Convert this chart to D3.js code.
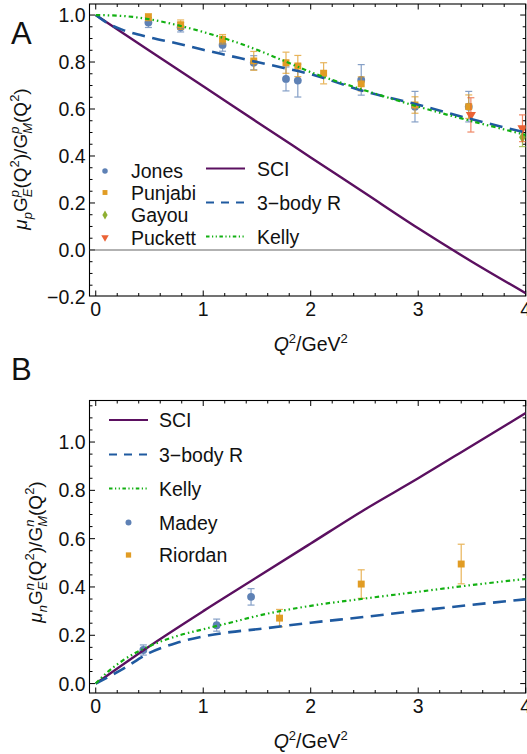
<!DOCTYPE html>
<html><head><meta charset="utf-8">
<script src="https://cdn.jsdelivr.net/npm/d3@7"></script>
<style>body{margin:0;background:#fff} svg{display:block} text{font-family:"Liberation Sans",Arial,Helvetica,sans-serif;fill:#111}</style>
</head><body><svg id="c" width="527" height="754"></svg>
<script>
// ---------- Panel A data (proton) ----------
const sciA_q = [0, 0.5, 1, 1.5, 2, 2.5, 3, 3.5, 4];
const sciA_v = [1.0, 0.848, 0.697, 0.545, 0.394, 0.243, 0.092, -0.05, -0.184];
const r3A_q = [0, 0.1, 0.25, 0.5, 0.75, 1, 1.25, 1.5, 1.75, 2, 2.5, 3, 3.5, 4];
const r3A_v = [1.0, 0.968, 0.937, 0.905, 0.88, 0.852, 0.826, 0.80, 0.775, 0.748, 0.675, 0.618, 0.556, 0.50];
const kellyA_q = [0, 0.25, 0.5, 0.75, 1, 1.25, 1.5, 1.75, 2, 2.5, 3, 3.5, 4];
const kellyA_v = [1.0, 0.996, 0.982, 0.958, 0.928, 0.893, 0.852, 0.805, 0.757, 0.68, 0.61, 0.548, 0.49];

const jones_q = [0.49, 0.79, 1.18, 1.47, 1.77, 1.88, 2.47, 2.97, 3.47];
const jones_v = [0.968, 0.948, 0.873, 0.797, 0.728, 0.721, 0.724, 0.61, 0.61];
const jones_e = [0.021, 0.02, 0.027, 0.03, 0.051, 0.07, 0.065, 0.065, 0.065];
const punjabi_q = [0.49, 0.79, 1.18, 1.47, 1.77, 1.88, 2.12, 2.47, 2.97, 3.47];
const punjabi_v = [0.991, 0.959, 0.897, 0.805, 0.797, 0.783, 0.752, 0.707, 0.617, 0.61];
const punjabi_e = [0.015, 0.02, 0.02, 0.04, 0.045, 0.045, 0.045, 0.03, 0.035, 0.05];
const gayou_q = [3.97];
const gayou_v = [0.48];
const gayou_e = [0.04];
const puckett_q = [3.49, 3.97];
const puckett_v = [0.575, 0.518];
const puckett_e = [0.073, 0.057];

// ---------- Panel B data (neutron) ----------
const sciB_q = [0, 0.5, 1, 1.5, 2, 2.5, 3, 3.5, 4];
const sciB_v = [0, 0.155, 0.30, 0.44, 0.58, 0.72, 0.85, 0.985, 1.12];
const r3B_q = [0, 0.25, 0.5, 0.75, 1, 1.25, 1.5, 2, 2.5, 3, 3.5, 4];
const r3B_v = [0, 0.06, 0.127, 0.168, 0.195, 0.213, 0.225, 0.252, 0.276, 0.302, 0.326, 0.349];
const kellyB_q = [0, 0.1, 0.25, 0.5, 0.75, 1, 1.25, 1.5, 2, 2.5, 3, 3.5, 4];
const kellyB_v = [0, 0.044, 0.095, 0.155, 0.196, 0.225, 0.252, 0.28, 0.322, 0.352, 0.38, 0.408, 0.433];

const madey_q = [0.443, 1.125, 1.445];
const madey_v = [0.139, 0.242, 0.359];
const madey_e = [0.021, 0.025, 0.034];
const riordan_q = [1.71, 2.47, 3.40];
const riordan_v = [0.271, 0.412, 0.495];
const riordan_e = [0.036, 0.059, 0.082];

// ---------- axis ticks ----------
const xMajor = [0, 1, 2, 3, 4];
const xLabels = ["0", "1", "2", "3", "4"];
const yMajorA = [-0.2, 0, 0.2, 0.4, 0.6, 0.8, 1.0];
const yMajorB = [0, 0.2, 0.4, 0.6, 0.8, 1.0];

// ---------- styles ----------
const C = {
  sci: "#5b1060", r3: "#1f5aa0", kelly: "#12b012",
  jones: "#5E81B5", punjabi: "#E19C24", gayou: "#8FB032", puckett: "#EB6235"
};

const svg = d3.select("#c");
const FS = 19.5;

const xA = d3.scaleLinear().domain([-0.058, 4]).range([89.5, 525.7]);
const yA = d3.scaleLinear().domain([-0.196, 1.047]).range([296, 4]);
const xB = d3.scaleLinear().domain([-0.058, 4]).range([89.5, 525.7]);
const yB = d3.scaleLinear().domain([-0.039, 1.172]).range([693, 400.5]);

function frame(g, xs, ys, yMajor, id) {
  const [x0, x1] = xs.range(), [y1, y0] = ys.range();
  const [yd0, yd1] = ys.domain();
  g.append("clipPath").attr("id", id).append("rect")
    .attr("x", x0).attr("y", y0).attr("width", x1 - x0).attr("height", y1 - y0);
  const xMin = d3.range(0, 4.0001, 0.2).filter(v => Math.abs(v - Math.round(v)) > 1e-6);
  const tk = g.append("g").attr("stroke", "#000").attr("stroke-width", 1);
  xMajor.forEach(v => {
    tk.append("line").attr("x1", xs(v)).attr("x2", xs(v)).attr("y1", y1).attr("y2", y1 - 5.5);
    tk.append("line").attr("x1", xs(v)).attr("x2", xs(v)).attr("y1", y0).attr("y2", y0 + 5.5);
  });
  xMin.forEach(v => {
    tk.append("line").attr("x1", xs(v)).attr("x2", xs(v)).attr("y1", y1).attr("y2", y1 - 3);
    tk.append("line").attr("x1", xs(v)).attr("x2", xs(v)).attr("y1", y0).attr("y2", y0 + 3);
  });
  const yMin = d3.range(-0.2, 1.2, 0.05).filter(v => v >= yd0 && v <= yd1 && !yMajor.some(m => Math.abs(m - v) < 1e-6));
  const yMaj = d3.range(-0.2, 1.2001, 0.2).filter(v => v >= yd0 - 1e-9 && v <= yd1);
  yMaj.forEach(v => {
    tk.append("line").attr("x1", x0).attr("x2", x0 + 5.5).attr("y1", ys(v)).attr("y2", ys(v));
    tk.append("line").attr("x1", x1).attr("x2", x1 - 5.5).attr("y1", ys(v)).attr("y2", ys(v));
  });
  yMin.forEach(v => {
    tk.append("line").attr("x1", x0).attr("x2", x0 + 3).attr("y1", ys(v)).attr("y2", ys(v));
    tk.append("line").attr("x1", x1).attr("x2", x1 - 3).attr("y1", ys(v)).attr("y2", ys(v));
  });
  g.append("rect").attr("x", x0).attr("y", y0).attr("width", x1 - x0).attr("height", y1 - y0)
    .attr("fill", "none").attr("stroke", "#000").attr("stroke-width", 1.1);
  const fmt = d3.format(".1f");
  yMajor.forEach(v => {
    g.append("text").attr("x", x0 - 4).attr("y", ys(v)).attr("dy", "0.36em")
      .attr("text-anchor", "end").attr("font-size", FS).text(fmt(v));
  });
  xMajor.forEach((v, i) => {
    g.append("text").attr("x", xs(v)).attr("y", y1 + 20)
      .attr("text-anchor", "middle").attr("font-size", FS).text(xLabels[i]);
  });
  const t = g.append("text").attr("x", xs(2)).attr("y", y1 + 55).attr("text-anchor", "middle").attr("font-size", FS);
  t.append("tspan").attr("font-style", "italic").text("Q");
  t.append("tspan").attr("font-size", 13).attr("dy", -8).text("2");
  t.append("tspan").attr("dy", 8).text("/GeV");
  t.append("tspan").attr("font-size", 13).attr("dy", -8).text("2");
}

function yTitle(g, cx, cy, s) {
  const t = g.append("text").attr("transform", `translate(${cx},${cy}) rotate(-90)`)
    .attr("text-anchor", "middle").attr("font-size", 19);
  const sm = 13;
  t.append("tspan").attr("font-style", "italic").text("\u03bc");
  t.append("tspan").attr("font-style", "italic").attr("font-size", sm).attr("dy", 5).text(s);
  t.append("tspan").attr("dy", -5).text("G");
  t.append("tspan").attr("font-style", "italic").attr("font-size", sm).attr("dy", -8).text(s);
  t.append("tspan").attr("font-style", "italic").attr("font-size", sm).attr("dx", -7.2).attr("dy", 13).text("E");
  t.append("tspan").attr("dy", -5).text("(Q");
  t.append("tspan").attr("font-size", sm).attr("dy", -8).text("2");
  t.append("tspan").attr("dy", 8).text(")/G");
  t.append("tspan").attr("font-style", "italic").attr("font-size", sm).attr("dy", -8).text(s);
  t.append("tspan").attr("font-style", "italic").attr("font-size", sm).attr("dx", -7.2).attr("dy", 13).text("M");
  t.append("tspan").attr("dy", -5).text("(Q");
  t.append("tspan").attr("font-size", sm).attr("dy", -8).text("2");
  t.append("tspan").attr("dy", 8).text(")");
}

function curve(g, xs, ys, q, v, color, dash, w) {
  const line = d3.line().x(d => xs(d[0])).y(d => ys(d[1])).curve(d3.curveMonotoneX);
  g.append("path").attr("d", line(q.map((d, i) => [d, v[i]])))
    .attr("fill", "none").attr("stroke", color).attr("stroke-width", w)
    .attr("stroke-dasharray", dash);
}

const symTypes = {
  circle: d3.symbolCircle, square: d3.symbolSquare, diamond: d3.symbolDiamond, tri: d3.symbolTriangle
};
function marker(g, x, y, type, color, size) {
  g.append("path").attr("d", d3.symbol().type(symTypes[type]).size(size)())
    .attr("transform", `translate(${x},${y})` + (type === "tri" ? " rotate(180)" : ""))
    .attr("fill", color);
}
function points(g, xs, ys, q, v, e, type, color) {
  q.forEach((d, i) => {
    const x = xs(d), ya = ys(v[i] - e[i]), yb = ys(v[i] + e[i]);
    const eb = g.append("g").attr("stroke", color).attr("stroke-width", 1.2).attr("opacity", 0.75);
    eb.append("line").attr("x1", x).attr("x2", x).attr("y1", ya).attr("y2", yb);
    eb.append("line").attr("x1", x - 3.5).attr("x2", x + 3.5).attr("y1", ya).attr("y2", ya);
    eb.append("line").attr("x1", x - 3.5).attr("x2", x + 3.5).attr("y1", yb).attr("y2", yb);
  });
  q.forEach((d, i) => marker(g, xs(d), ys(v[i]), type, color, type === "diamond" ? 40 : (type === "tri" ? 45 : 48)));
}

const DASH_R3 = "13,7.5";
const DASH_K = "4.5,3,1.5,3,1.5,3";

// ---------- Panel A ----------
const gA = svg.append("g");
frame(gA, xA, yA, yMajorA, "clipA");
const pA = gA.append("g").attr("clip-path", "url(#clipA)");
pA.append("line").attr("x1", xA.range()[0]).attr("x2", xA.range()[1]).attr("y1", yA(0)).attr("y2", yA(0))
  .attr("stroke", "#666").attr("stroke-width", 1.1);
points(pA, xA, yA, jones_q, jones_v, jones_e, "circle", C.jones);
points(pA, xA, yA, punjabi_q, punjabi_v, punjabi_e, "square", C.punjabi);
points(pA, xA, yA, gayou_q, gayou_v, gayou_e, "diamond", C.gayou);
points(pA, xA, yA, puckett_q, puckett_v, puckett_e, "tri", C.puckett);
curve(pA, xA, yA, sciA_q, sciA_v, C.sci, null, 2.4);
curve(pA, xA, yA, r3A_q, r3A_v, C.r3, DASH_R3, 2.6);
curve(pA, xA, yA, kellyA_q, kellyA_v, C.kelly, DASH_K, 2.2);
yTitle(gA, 27, 159, "p");
gA.append("text").attr("x", 11).attr("y", 44).attr("font-size", 31).text("A");

const legA = gA.append("g");
[["Jones", "circle", C.jones, 171], ["Punjabi", "square", C.punjabi, 192.5], ["Gayou", "diamond", C.gayou, 215], ["Puckett", "tri", C.puckett, 237.5]]
  .forEach(([name, type, col, y]) => {
    marker(legA, 105, y, type, col, 24);
    legA.append("text").attr("x", 131).attr("y", y).attr("dy", "0.36em").attr("font-size", FS).text(name);
  });
[["SCI", C.sci, null, 2.2, 168.5], ["3\u2212body R", C.r3, "8,7", 2.2, 202.5], ["Kelly", C.kelly, "3.5,2.5,1.2,2.5,1.2,2.5", 1.8, 236.5]]
  .forEach(([name, col, dash, w, y]) => {
    legA.append("line").attr("x1", 206).attr("x2", 245).attr("y1", y).attr("y2", y)
      .attr("stroke", col).attr("stroke-width", w).attr("stroke-dasharray", dash);
    legA.append("text").attr("x", 257).attr("y", y).attr("dy", "0.36em").attr("font-size", FS).text(name);
  });

// ---------- Panel B ----------
const gB = svg.append("g");
frame(gB, xB, yB, yMajorB, "clipB");
const pB = gB.append("g").attr("clip-path", "url(#clipB)");
points(pB, xB, yB, madey_q, madey_v, madey_e, "circle", C.jones);
points(pB, xB, yB, riordan_q, riordan_v, riordan_e, "square", C.punjabi);
curve(pB, xB, yB, sciB_q, sciB_v, C.sci, null, 2.4);
curve(pB, xB, yB, r3B_q, r3B_v, C.r3, DASH_R3, 2.6);
curve(pB, xB, yB, kellyB_q, kellyB_v, C.kelly, DASH_K, 2.2);
yTitle(gB, 42, 552, "n");
gB.append("text").attr("x", 11).attr("y", 380).attr("font-size", 31).text("B");

const legB = gB.append("g");
[["SCI", C.sci, null, 2.2, 420], ["3\u2212body R", C.r3, "8,7", 2.2, 454.5], ["Kelly", C.kelly, "3.5,2.5,1.2,2.5,1.2,2.5", 1.8, 488.5]]
  .forEach(([name, col, dash, w, y]) => {
    legB.append("line").attr("x1", 109).attr("x2", 148).attr("y1", y).attr("y2", y)
      .attr("stroke", col).attr("stroke-width", w).attr("stroke-dasharray", dash);
    legB.append("text").attr("x", 159).attr("y", y).attr("dy", "0.36em").attr("font-size", FS).text(name);
  });
[["Madey", "circle", C.jones, 522.5], ["Riordan", "square", C.punjabi, 555]]
  .forEach(([name, type, col, y]) => {
    marker(legB, 128.5, y, type, col, 28);
    legB.append("text").attr("x", 159).attr("y", y).attr("dy", "0.36em").attr("font-size", FS).text(name);
  });
</script></body></html>
